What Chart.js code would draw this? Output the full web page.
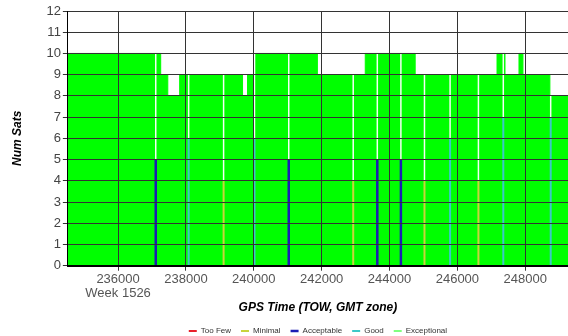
<!DOCTYPE html>
<html>
<head>
<meta charset="utf-8">
<script src="https://cdn.jsdelivr.net/npm/chart.js@4.4.1/dist/chart.umd.min.js"></script>
<style>
    body { margin: 0; background: #fff; }
</style>
</head>
<body>
<canvas id="sats-chart" width="568" height="336"></canvas>
<script>
// Nombre de satellites : paliers (haut de la zone verte)
const stepTimes = [234520, 237256, 237465, 237815, 239668, 239815, 240060, 241874, 243285, 244756, 247168, 247403, 247815, 247932, 248726, 249260];
const stepSats  = [10, 9, 8, 9, 8, 9, 10, 9, 10, 9, 10, 9, 10, 9, 8, 8];

// Chutes ponctuelles du nombre de satellites
const dropTimes = [237110, 238080, 239110, 240020, 241030, 242930, 243640, 244335, 245030, 245785, 246620, 247353, 248750];
const dropSats  = [5, 6, 4, 6, 5, 4, 5, 5, 4, 6, 4, 7, 7];
const dropClass = ["Acceptable", "Good", "Minimal", "Good", "Acceptable", "Minimal", "Acceptable", "Acceptable", "Minimal", "Good", "Minimal", "Good", "Good"];

const xTicks = [236000, 238000, 240000, 242000, 244000, 246000, 248000];
const yTicks = [0, 1, 2, 3, 4, 5, 6, 7, 8, 9, 10, 11, 12];
const weekLabel = "Week 1526";

const classes = ["Too Few", "Minimal", "Acceptable", "Good", "Exceptional"];
const classColors = {
    "Too Few": "#e8202a",
    "Minimal": "#c8d43c",
    "Acceptable": "#1c1cb4",
    "Good": "#3cc8c8",
    "Exceptional": "#00ff00",
};

const FONT = "Arial, 'Liberation Sans', sans-serif";

function topAt(t) {
    let v = stepSats[0];
    for (let i = 0; i < stepTimes.length; i++) {
        if (stepTimes[i] <= t) v = stepSats[i];
    }
    return v;
}

// colonne blanche au-dessus de chaque chute
const gapData = [];
dropTimes.forEach((t, i) => {
    gapData.push({ x: t, y: dropSats[i] }, { x: t, y: topAt(t) }, { x: t, y: null });
});

const datasets = [{
    label: "",
    data: gapData,
    borderColor: "#f4fff4",
    backgroundColor: "#f4fff4",
    borderWidth: 1.5,
    pointRadius: 0,
    fill: false,
}];

classes.forEach((name) => {
    if (name === "Exceptional") {
        datasets.push({
            label: name,
            data: stepTimes.map((t, i) => ({ x: t, y: stepSats[i] })),
            stepped: true,
            borderColor: classColors[name],
            backgroundColor: classColors[name],
            borderWidth: 1,
            pointRadius: 0,
            fill: "origin",
        });
        return;
    }
    const data = [];
    dropTimes.forEach((t, i) => {
        if (dropClass[i] === name) {
            data.push({ x: t, y: 0 }, { x: t, y: dropSats[i] }, { x: t, y: null });
        }
    });
    datasets.push({
        label: name,
        data: data,
        borderColor: classColors[name],
        backgroundColor: classColors[name],
        borderWidth: name === "Acceptable" ? 2.5 : 2,
        pointRadius: 0,
        fill: false,
    });
});

new Chart(document.getElementById("sats-chart"), {
    type: "line",
    data: { datasets: datasets },
    options: {
        responsive: false,
        animation: false,
        layout: { padding: { left: 0, right: 0, top: 11, bottom: -9 } },
        plugins: {
            tooltip: { enabled: false },
            legend: {
                position: "bottom",
                fullSize: false,
                labels: {
                    filter: (item) => item.text !== "",
                    usePointStyle: true,
                    pointStyle: "line",
                    pointStyleWidth: 8,
                    padding: 10,
                    color: "#333",
                    font: { family: FONT, size: 8 },
                },
            },
        },
        scales: {
            x: {
                type: "linear",
                min: stepTimes[0],
                max: stepTimes[stepTimes.length - 1],
                afterBuildTicks: (axis) => { axis.ticks = xTicks.map((v) => ({ value: v })); },
                ticks: {
                    color: "#555",
                    padding: 2,
                    maxRotation: 0,
                    z: 1,
                    font: { family: FONT, size: 13, lineHeight: 1.05 },
                    callback: (value, index) => index === 0 ? [String(value), weekLabel] : String(value),
                },
                grid: { color: "#333", tickLength: 5, z: 1 },
                border: { color: "#000", width: 2, z: 2 },
                title: {
                    display: true,
                    text: "GPS Time (TOW, GMT zone)",
                    color: "#000",
                    padding: { top: 0, bottom: 3 },
                    font: { family: FONT, size: 12, weight: "bold", style: "italic", lineHeight: 1 },
                },
            },
            y: {
                min: 0,
                max: 12,
                afterBuildTicks: (axis) => { axis.ticks = yTicks.map((v) => ({ value: v })); },
                ticks: {
                    color: "#444",
                    padding: 2,
                    z: 1,
                    font: { family: FONT, size: 13 },
                },
                grid: { color: "#333", tickLength: 5, z: 1 },
                border: { color: "#000", width: 1, z: 2 },
                title: {
                    display: true,
                    text: "Num Sats",
                    color: "#000",
                    padding: { top: 10, bottom: 20 },
                    font: { family: FONT, size: 12, weight: "bold", style: "italic" },
                },
            },
        },
    },
});
</script>
</body>
</html>
